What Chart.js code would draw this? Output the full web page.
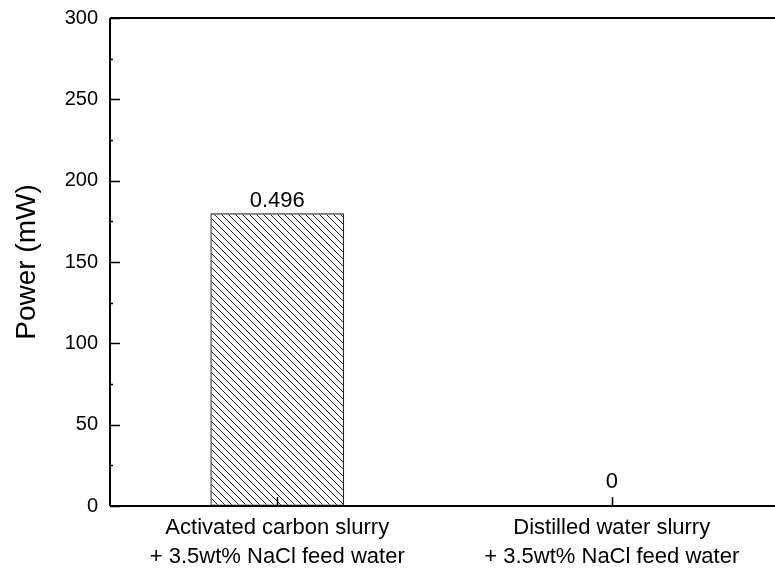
<!DOCTYPE html>
<html>
<head>
<meta charset="utf-8">
<script src="https://cdn.jsdelivr.net/npm/chart.js@4/dist/chart.umd.min.js"></script>
<style>
  html, body { margin: 0; padding: 0; background: #fff; overflow: hidden; }
  #wrap { width: 779px; height: 569px; }
</style>
</head>
<body>
<div id="wrap"><canvas id="powerChart"></canvas></div>
<script>
  const categories = [
    ['Activated carbon slurry', '+ 3.5wt% NaCl feed water'],
    ['Distilled water slurry', '+ 3.5wt% NaCl feed water']
  ];
  const powerValues = [180, 0];
  const barLabels = ['0.496', '0'];
  const yTicks = [0, 50, 100, 150, 200, 250, 300];

  const FONT = '"Liberation Sans", Arial, sans-serif';

  // diagonal hatch fill
  function hatch() {
    const s = 7;
    const c = document.createElement('canvas');
    c.width = s; c.height = s;
    const g = c.getContext('2d');
    g.strokeStyle = '#222';
    g.lineWidth = 1;
    g.beginPath();
    g.moveTo(0, 0); g.lineTo(s, s);
    g.moveTo(-1, s - 1); g.lineTo(1, s + 1);
    g.moveTo(s - 1, -1); g.lineTo(s + 1, 1);
    g.stroke();
    return g.createPattern(c, 'repeat');
  }

  // axes frame, inward ticks and value labels
  const framePlugin = {
    id: 'frame',
    afterDatasetsDraw(chart) {
      const { ctx, chartArea: a, scales: { x, y } } = chart;
      ctx.save();
      ctx.strokeStyle = '#000';
      ctx.lineWidth = 2;
      ctx.beginPath();
      ctx.moveTo(a.left, a.top); ctx.lineTo(a.right, a.top);
      ctx.moveTo(a.left, a.top); ctx.lineTo(a.left, a.bottom);
      ctx.moveTo(a.left, a.bottom); ctx.lineTo(a.right, a.bottom);
      ctx.stroke();

      ctx.lineWidth = 1.5;
      ctx.beginPath();
      yTicks.forEach(v => {
        const py = Math.round(y.getPixelForValue(v)) + 0.5;
        ctx.moveTo(a.left, py); ctx.lineTo(a.left + 10, py);
      });
      for (let v = 25; v < 300; v += 50) {
        const py = Math.round(y.getPixelForValue(v)) + 0.5;
        ctx.moveTo(a.left, py); ctx.lineTo(a.left + 3, py);
      }
      categories.forEach((c, i) => {
        const px = Math.round(x.getPixelForValue(i)) + 0.5;
        ctx.moveTo(px, a.bottom); ctx.lineTo(px, a.bottom - 9);
      });
      ctx.stroke();

      ctx.fillStyle = '#000';
      ctx.font = '22px ' + FONT;
      ctx.textAlign = 'center';
      ctx.textBaseline = 'alphabetic';
      chart.getDatasetMeta(0).data.forEach((bar, i) => {
        ctx.fillText(barLabels[i], bar.x, bar.y - (powerValues[i] > 0 ? 6 : 18));
      });
      ctx.restore();
    }
  };

  new Chart(document.getElementById('powerChart'), {
    type: 'bar',
    data: {
      labels: categories,
      datasets: [{
        data: powerValues,
        backgroundColor: hatch(),
        borderColor: '#222',
        borderWidth: 1.2,
        borderSkipped: false,
        barPercentage: 0.4,
        categoryPercentage: 1.0
      }]
    },
    options: {
      responsive: true,
      maintainAspectRatio: false,
      animation: false,
      layout: { padding: { top: 18, right: 0, left: 0, bottom: 0 } },
      plugins: {
        legend: { display: false },
        tooltip: { enabled: false }
      },
      scales: {
        x: {
          grid: { display: false, drawTicks: false },
          border: { display: false },
          ticks: {
            color: '#000',
            font: { family: FONT, size: 22, lineHeight: 1.3 },
            padding: 8,
            maxRotation: 0
          },
          afterFit(scale) { scale.height = 63; }
        },
        y: {
          min: 0,
          max: 300,
          grid: { display: false, drawTicks: false },
          border: { display: false },
          ticks: {
            stepSize: 50,
            color: '#000',
            font: { family: FONT, size: 20 },
            padding: 12
          },
          title: {
            display: true,
            text: 'Power (mW)',
            color: '#000',
            font: { family: FONT, size: 28 },
            padding: { top: 10, bottom: 0 }
          },
          afterFit(scale) {
            scale.width = 110;
            scale.paddingTop = 0;
            scale.paddingBottom = 0;
          }
        }
      }
    },
    plugins: [framePlugin]
  });
</script>
</body>
</html>
